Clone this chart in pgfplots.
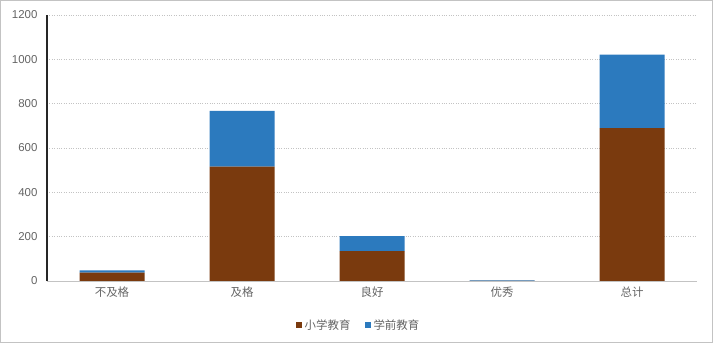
\documentclass[border=0pt]{standalone}
\usepackage{fontspec}
\setmainfont{Liberation Sans}
\newfontfamily\cjk{Noto Sans CJK SC}
\usepackage{pgfplots}
\pgfplotsset{compat=1.18}
\definecolor{brownS}{RGB}{122,58,14}
\definecolor{blueS}{RGB}{44,122,190}
\definecolor{txt}{RGB}{100,100,100}
\definecolor{gridc}{RGB}{195,195,195}
\begin{document}
\begin{tikzpicture}
\useasboundingbox (0bp,0bp) rectangle (713bp,343bp);
\draw[gridc, line width=0.8bp] (0.5bp,0.5bp) rectangle (712.5bp,342.5bp);
\begin{axis}[
  at={(47bp,62bp)}, anchor=south west,
  scale only axis, width=650bp, height=266bp,
  ybar stacked, bar width=65bp, bar shift=0pt,
  xmin=-0.5, xmax=4.5, ymin=0, ymax=1200,
  xtick={0,1,2,3,4},
  xticklabels={不及格,及格,良好,优秀,总计},
  extra x ticks={-0.5,0.5,1.5,2.5,3.5,4.5},
  extra x tick labels={},
  extra x tick style={major tick length=4bp, tick style={gridc, line width=0.8bp}, grid=none},
  ytick={0,200,400,600,800,1000,1200},
  ymajorgrids,
  grid style={gridc, dotted, line width=0.7bp},
  axis x line*=bottom, axis y line*=left,
  y axis line style={black!85, line width=1.2bp},
  x axis line style={gridc, line width=1bp},
  major tick length=0pt,
  xtick style={draw=none},
  ytick style={draw=none},
  /pgf/number format/assume math mode=true,
  /pgf/number format/1000 sep={},
  tick label style={font=\fontsize{11.5}{13}\selectfont, text=txt},
  yticklabel style={xshift=-6bp},
  xticklabel style={font=\cjk\fontsize{11.5}{13}\selectfont, text=txt, yshift=-2bp},
  legend style={at={(0.5,0)}, anchor=center, xshift=-13bp, yshift=-44bp, draw=none, fill=none,
     font=\cjk\fontsize{11.5}{13}\selectfont, text=txt, legend columns=2,
     /tikz/every even column/.append style={column sep=12bp},
     nodes={inner xsep=2.5bp}},
  legend image code/.code={\fill[#1] (0bp,-3bp) rectangle (6bp,3bp);},
]
\addplot[fill=brownS, draw=none] coordinates {(0,38) (1,516) (2,135) (3,1) (4,690)};
\addplot[fill=blueS, draw=none] coordinates {(0,10) (1,252) (2,67) (3,2) (4,331)};
\legend{小学教育,学前教育}
\end{axis}
\end{tikzpicture}
\end{document}
